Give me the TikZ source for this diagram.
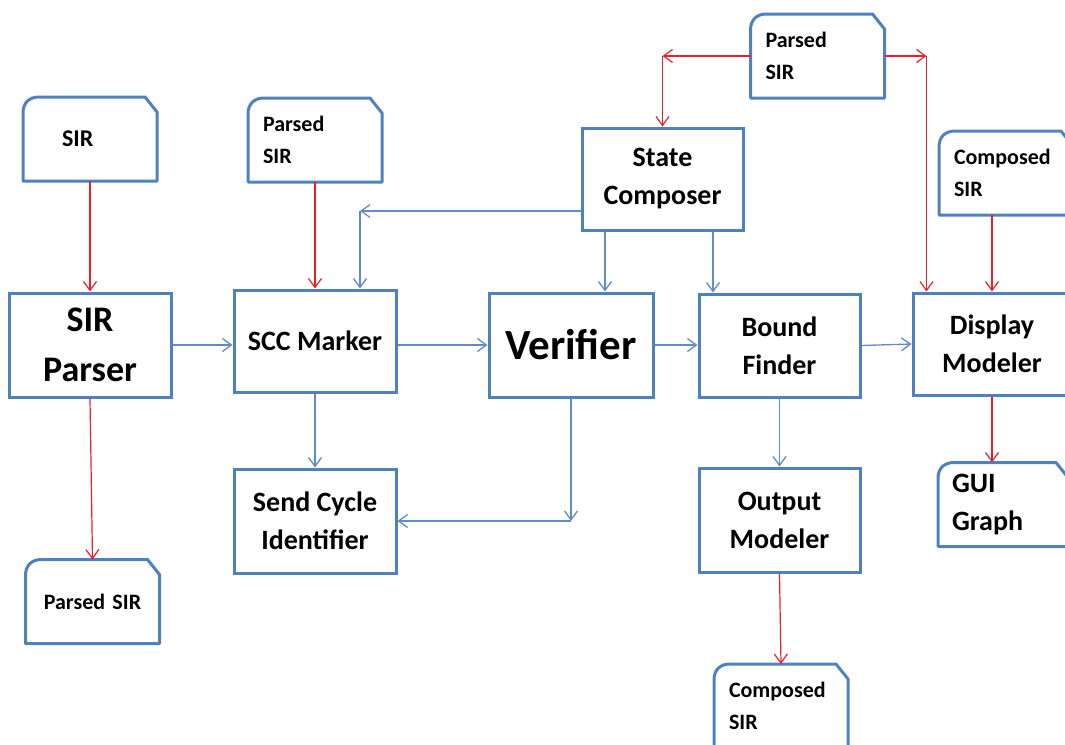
\documentclass[tikz,border=0pt]{standalone}
\usepackage{fontspec}
\setmainfont{Carlito}
\usetikzlibrary{arrows.meta}

\definecolor{boxblue}{RGB}{79,129,189}
\definecolor{linkblue}{RGB}{95,140,200}
\definecolor{linkred}{RGB}{236,32,42}

\tikzset{
  procbox/.style={draw=boxblue, line width=3pt, minimum width=162pt, minimum height=104pt,
    align=center, font=\fontsize{28}{38}\selectfont\bfseries},
  docbox/.style={minimum width=134pt, minimum height=84pt, text width=104pt, inner xsep=15pt,
    inner ysep=0pt, outer sep=0pt, align=left, font=\fontsize{22}{32}\selectfont\bfseries},
  docline/.style={draw=boxblue, line width=3pt, line join=round},
  flow/.style={draw=linkblue, line width=1.3pt, -{Straight Barb[length=9pt,width=13pt]}},
  feed/.style={draw=linkred, line width=1.2pt, -{Straight Barb[length=9pt,width=13pt]}},
}

% outline of a data file: round top left, cut top right
\newcommand{\docframe}[1]{%
  \draw[docline] (#1.south west) -- ([yshift=-16pt]#1.north west)
    .. controls ([yshift=-6pt]#1.north west) and ([xshift=6pt]#1.north west) .. ([xshift=16pt]#1.north west)
    -- ([xshift=-12pt]#1.north east) -- ([yshift=-15pt]#1.north east)
    -- (#1.south east) -- cycle;}

\begin{document}
\begin{tikzpicture}[x=1pt,y=-1pt]
\useasboundingbox (0,0) rectangle (1065,744);
\clip (0,0) rectangle (1065,744);

% data files
\node[docbox, inner xsep=39pt, text width=56pt, font=\fontsize{24}{32}\selectfont\bfseries] (sirin) at (90,139) {SIR};
\node[docbox] (psir) at (315,140) {Parsed\\SIR};
\node[docbox] (ptop) at (817.5,56) {Parsed\\SIR};
\node[docbox] (csir) at (1006,173) {Composed\\SIR};
\node[docbox, minimum width=130pt, text width=102pt, inner xsep=14pt, font=\fontsize{28}{38}\selectfont\bfseries] (gui) at (1003,504.5) {GUI\\Graph};
\node[docbox, align=center] (pout) at (92.5,601.5) {Parsed SIR};
\node[docbox] (cout) at (781,706) {Composed\\SIR};
\foreach \d in {sirin,psir,ptop,csir,gui,pout,cout} {\docframe{\d}}

% processing stages
\node[procbox, font=\fontsize{36}{50}\selectfont\bfseries] (parser) at (90,345) {SIR\\Parser};
\node[procbox, minimum height=102pt] (scc) at (315,341) {SCC Marker};
\node[procbox, minimum width=164pt, font=\fontsize{43}{50}\selectfont\bfseries] (verifier) at (571,345) {Verifier};
\node[procbox, minimum width=161pt, minimum height=103pt] (bound) at (779.5,345.5) {Bound\\Finder};
\node[procbox, minimum width=158pt, minimum height=102pt] (display) at (992,344) {Display\\Modeler};
\node[procbox, minimum width=161pt, minimum height=102pt] (composer) at (662.5,179) {State\\Composer};
\node[procbox] (cycle) at (315,521) {Send Cycle\\Identifier};
\node[procbox, minimum width=161pt] (output) at (779.5,520) {Output\\Modeler};

% data in and out
\draw[feed] (sirin) -- (parser);
\draw[feed] (parser.south) -- (pout.north);
\draw[feed] (psir.south) -- (scc.north);
\coordinate (pl) at (composer.north |- ptop.west);
\draw[feed] (ptop.west) -- (pl);
\draw[feed] (pl) -- (composer.north);
\coordinate (pr) at ([xshift=42pt]ptop.east);
\draw[feed] (ptop.east) -- (pr);
\draw[feed] (pr) -- (pr |- display.north);
\draw[feed] (display.north |- csir.south) -- (display.north);
\draw[feed] (display.south) -- (display.south |- gui.north);
\draw[feed] (output.south) -- (cout.north);

% control flow
\draw[flow] (parser.east) -- (parser.east -| scc.west);
\draw[flow] (verifier.west -| scc.east) -- (verifier.west);
\draw[flow] (verifier.east) -- (verifier.east -| bound.west);
\draw[flow] (bound.east) -- (display.west);
\coordinate (cl) at ([xshift=-57.5pt]composer.south);
\coordinate (cr) at ([xshift=50.5pt]composer.south);
\draw[flow] (cl) -- (cl |- verifier.north);
\draw[flow] (cr) -- (cr |- bound.north);
\coordinate (sc) at ([yshift=-32pt]composer.west);
\coordinate (st) at ([xshift=45pt]scc.north);
\coordinate (sl) at (st |- sc);
\draw[flow] (sc) -- (sl);
\draw[flow] (sl) -- (st);
\coordinate (vc) at (verifier.south |- cycle.east);
\draw[flow] (verifier.south) -- (vc);
\draw[flow] (vc) -- (cycle.east);
\draw[flow] (scc.south) -- (cycle.north);
\draw[flow] (bound.south) -- (output.north);
\end{tikzpicture}
\end{document}
